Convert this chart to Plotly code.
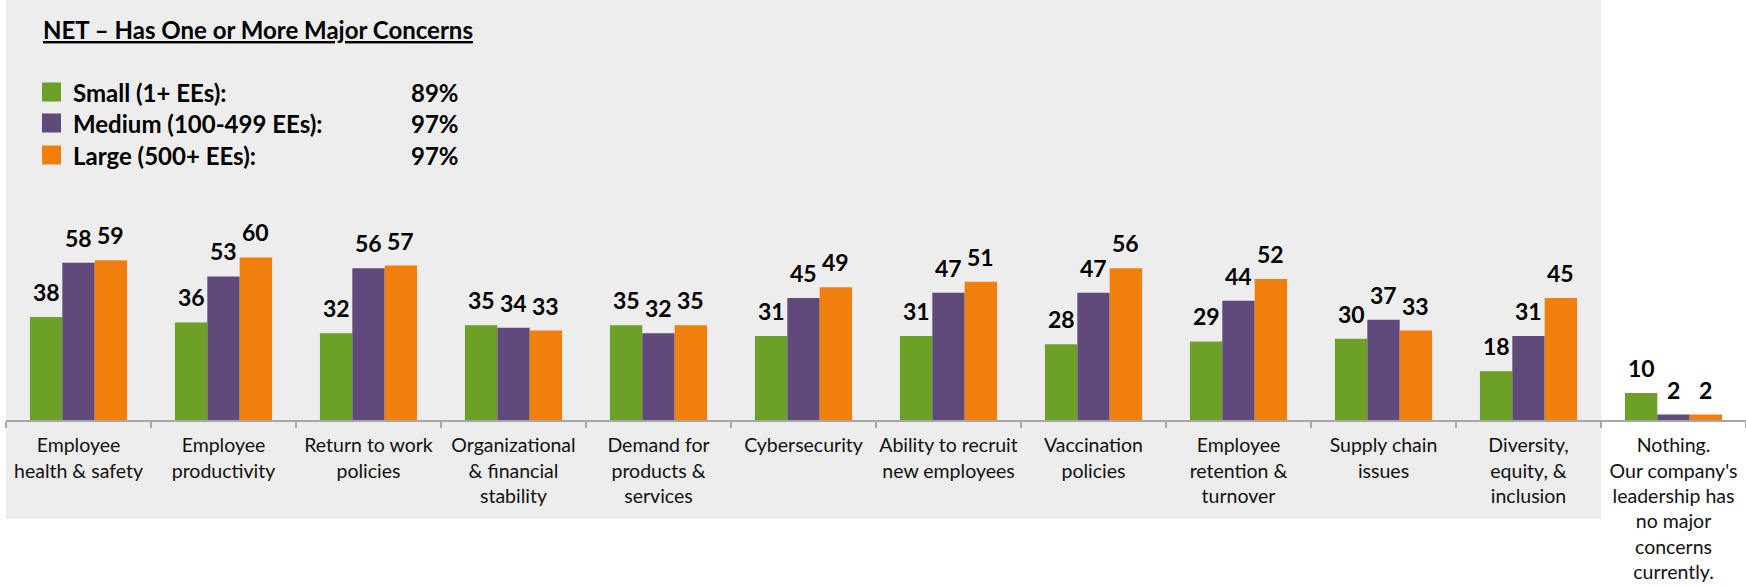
import plotly.graph_objects as go

# ---------------- data ----------------
categories = [
    "Employee<br>health & safety",
    "Employee<br>productivity",
    "Return to work<br>policies",
    "Organizational<br>& financial<br>stability",
    "Demand for<br>products &<br>services",
    "Cybersecurity",
    "Ability to recruit<br>new employees",
    "Vaccination<br>policies",
    "Employee<br>retention &<br>turnover",
    "Supply chain<br>issues",
    "Diversity,<br>equity, &<br>inclusion",
    "Nothing.<br>Our company's<br>leadership has<br>no major<br>concerns<br>currently.",
]
small = [38, 36, 32, 35, 35, 31, 31, 28, 29, 30, 18, 10]
medium = [58, 53, 56, 34, 32, 45, 47, 47, 44, 37, 31, 2]
large = [59, 60, 57, 33, 35, 49, 51, 56, 52, 33, 45, 2]

series_names = ["Small (1+ EEs):", "Medium (100-499 EEs):", "Large (500+ EEs):"]
net_values = ["89%", "97%", "97%"]
title_text = "NET – Has One or More Major Concerns"

# ---------------- style ----------------
colors = ["#6DA027", "#604A7B", "#F0800B"]
FONT = "Lato, Carlito, 'Liberation Sans Narrow', 'Open Sans', sans-serif"
W, H = 1746, 587
ML, MR, MT, MB = 6, 0, 0, 167
PW, PH = W - ML - MR, H - MT - MB
Y_MAX = 155
BARGAP = 0.33


def px_x(px):
    return (px - ML) / PW


def px_y(py):
    return 1 - (py - MT) / PH


fig = go.Figure()
all_series = [small, medium, large]
for name, vals, col in zip(series_names, all_series, colors):
    fig.add_trace(go.Bar(
        x=categories, y=vals, name=name,
        marker=dict(color=col, line=dict(width=0)),
        showlegend=False, hoverinfo="skip",
    ))

# data labels
cat_px = PW / len(categories)
bar_px = cat_px * (1 - BARGAP) / 3
annotations = []
for k, vals in enumerate(all_series):
    for c, v in zip(categories, vals):
        annotations.append(dict(
            x=c, y=v, xref="x", yref="y", text=f"<b>{v}</b>",
            showarrow=False, xanchor="center", yanchor="bottom",
            xshift=(k - 1) * bar_px, yshift=9,
            font=dict(family=FONT, size=23, color="#000000"),
        ))

# title
annotations.append(dict(
    x=px_x(41), y=px_y(30), xref="paper", yref="paper",
    text=f"<b><u>{title_text}</u></b>", showarrow=False,
    xanchor="left", yanchor="middle",
    font=dict(family=FONT, size=24, color="#000000"),
))

# background panel + custom legend
shapes = [dict(
    type="rect", xref="paper", yref="paper",
    x0=px_x(ML), x1=11 / 12, y0=px_y(519), y1=1,
    fillcolor="#EDEDED", line=dict(width=0), layer="below",
)]
row_y = [92, 123, 155]
for name, val, col, ry in zip(series_names, net_values, colors, row_y):
    shapes.append(dict(
        type="rect", xref="paper", yref="paper",
        x0=px_x(42), x1=px_x(61), y0=px_y(ry + 9.5), y1=px_y(ry - 9.5),
        fillcolor=col, line=dict(width=0),
    ))
    annotations.append(dict(
        x=px_x(71), y=px_y(ry), xref="paper", yref="paper",
        text=f"<b>{name}</b>", showarrow=False, xanchor="left", yanchor="middle",
        font=dict(family=FONT, size=24, color="#000000"),
    ))
    annotations.append(dict(
        x=px_x(409), y=px_y(ry), xref="paper", yref="paper",
        text=f"<b>{val}</b>", showarrow=False, xanchor="left", yanchor="middle",
        font=dict(family=FONT, size=24, color="#000000"),
    ))

fig.update_layout(
    width=W, height=H,
    margin=dict(l=ML, r=MR, t=MT, b=MB, pad=0, autoexpand=False),
    paper_bgcolor="#FFFFFF", plot_bgcolor="rgba(0,0,0,0)",
    barmode="group", bargap=BARGAP, bargroupgap=0,
    annotations=annotations, shapes=shapes,
    font=dict(family=FONT, color="#000000"),
    xaxis=dict(
        type="category", showline=True, linecolor="#A6A6A6", linewidth=2,
        ticks="outside", tickson="boundaries", ticklen=6, tickwidth=1.5,
        tickcolor="#A6A6A6", showgrid=False, zeroline=False,
        tickfont=dict(family=FONT, size=19.5, color="#111111"),
        ticklabelstandoff=7, fixedrange=True, tickangle=0, automargin=False,
    ),
    yaxis=dict(range=[0, Y_MAX], visible=False, showgrid=False,
               zeroline=False, fixedrange=True, automargin=False),
)

fig.write_html(
    "out.html",
    config={"displayModeBar": False, "responsive": False},
    post_script="document.body.style.margin='0';document.body.style.overflow='hidden';",
)
